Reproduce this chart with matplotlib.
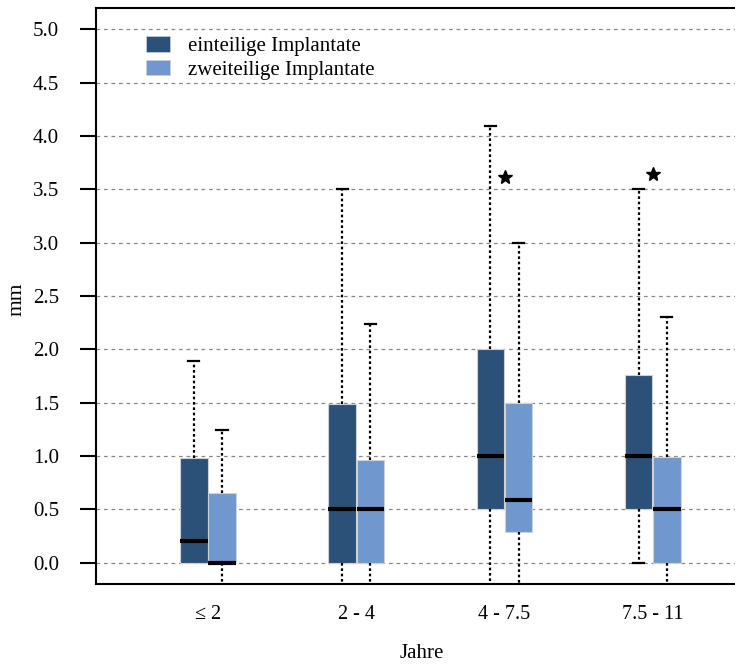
import numpy as np
import matplotlib.pyplot as plt
from matplotlib.patches import Patch

plt.rcParams['font.family'] = ['Liberation Serif', 'DejaVu Serif']

gruppen = ["≤ 2", "2 - 4", "4 - 7.5", "7.5 - 11"]
serien = ["einteilige Implantate", "zweiteilige Implantate"]
farben = ["#2C5179", "#7098CE"]

# Boxplot-Kennwerte pro Gruppe: unterer Whisker, Q1, Median, Q3, oberer Whisker
einteilig_unten = [0.0, -0.5, -0.5, 0.0]
einteilig_q1 = [0.0, 0.0, 0.5, 0.5]
einteilig_median = [0.2, 0.5, 1.0, 1.0]
einteilig_q3 = [0.98, 1.49, 2.0, 1.76]
einteilig_oben = [1.89, 3.5, 4.09, 3.5]

zweiteilig_unten = [-0.5, -0.5, -0.5, -0.5]
zweiteilig_q1 = [0.0, 0.0, 0.29, 0.0]
zweiteilig_median = [0.0, 0.5, 0.59, 0.5]
zweiteilig_q3 = [0.65, 0.96, 1.5, 0.99]
zweiteilig_oben = [1.24, 2.24, 3.0, 2.3]

# Sternmarkierungen
stern_gruppe = [3, 4]
stern_wert = [3.62, 3.64]


def kennwerte(unten, q1, med, q3, oben):
    return [dict(whislo=a, q1=b, med=c, q3=d, whishi=e, fliers=[])
            for a, b, c, d, e in zip(unten, q1, med, q3, oben)]


fig = plt.figure(figsize=(7.35, 6.65), dpi=100)
ax = fig.add_axes([96 / 735, 81 / 665, 668 / 735, 576 / 665])

pos = np.arange(1, len(gruppen) + 1)
versatz = 0.095
breite = 0.185

alle = [
    kennwerte(einteilig_unten, einteilig_q1, einteilig_median, einteilig_q3, einteilig_oben),
    kennwerte(zweiteilig_unten, zweiteilig_q1, zweiteilig_median, zweiteilig_q3, zweiteilig_oben),
]

for i, (stats, farbe) in enumerate(zip(alle, farben)):
    teile = ax.bxp(stats, positions=pos + (2 * i - 1) * versatz, widths=breite,
                   capwidths=0.075, showfliers=False, patch_artist=True,
                   boxprops=dict(facecolor=farbe, edgecolor="#d0d0d0", linewidth=0.8),
                   medianprops=dict(color="black", linewidth=3.0, solid_capstyle="butt"),
                   whiskerprops=dict(color="black", linewidth=1.6, linestyle=(0, (1.2, 1.2))),
                   capprops=dict(color="black", linewidth=1.6),
                   zorder=3, manage_ticks=False)
    # kein unterer Whisker, wenn er mit Q1 zusammenfaellt
    for k, st in enumerate(stats):
        if st["whislo"] == st["q1"]:
            teile["caps"][2 * k].set_visible(False)

ax.plot(stern_gruppe, stern_wert, linestyle="none", marker="*", color="black",
        markersize=10, zorder=4)

ax.set_xlim(0.245, 4.75)
ax.set_ylim(-0.2, 5.2)
ax.set_yticks(np.arange(0, 5.01, 0.5))
ax.set_yticklabels([f"{v:.1f}" for v in np.arange(0, 5.01, 0.5)])
ax.set_xticks(pos)
ax.set_xticklabels(gruppen)
ax.tick_params(axis="x", length=0, pad=15, labelsize=14.5)
ax.tick_params(axis="y", length=11.5, width=1.5, pad=15, labelsize=15)
ax.grid(axis="y", color="#888888", linewidth=0.9, linestyle=(0, (3, 3)), zorder=0)
ax.set_axisbelow(True)
for s in ax.spines.values():
    s.set_linewidth(1.5)

fig.text(17 / 735, 1 - 299 / 665, "mm", rotation=90, ha="center", va="center", fontsize=15.5)
fig.text(422 / 735, 1 - 654 / 665, "Jahre", ha="center", va="center", fontsize=15)

handles = [Patch(facecolor=f, edgecolor="#d0d0d0", linewidth=0.5) for f in farben]
ax.legend(handles, serien, loc="upper left", bbox_to_anchor=(0.075, 0.951),
          frameon=False, fontsize=15, handlelength=1.15, handleheight=0.8,
          handletextpad=0.85, labelspacing=0.15, borderpad=0, borderaxespad=0)

fig.savefig("out.png", dpi=100)
